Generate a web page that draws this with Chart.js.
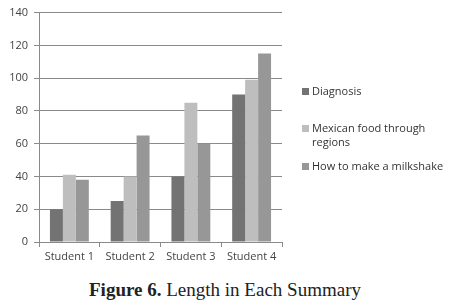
<!DOCTYPE html>
<html>
<head>
<meta charset="utf-8">
<script src="https://cdn.jsdelivr.net/npm/chart.js@4/dist/chart.umd.min.js"></script>
<style>
    body { margin: 0; background: #fff; }
    #wrap { position: relative; width: 450px; height: 305px; }
    #chartBox { position: absolute; left: 0; top: 0; width: 450px; height: 270px; }
    #legend { position: absolute; left: 302px; top: 84px; font-family: 'Open Sans', 'DejaVu Sans', sans-serif; font-size: 11px; color: #333; }
    .item { position: relative; padding-left: 10px; line-height: 14px; }
    .item span.box { position: absolute; left: 0; top: 4px; width: 7px; height: 7px; }
    #caption { position: absolute; left: 0; width: 450px; top: 279px; text-align: center; font-family: 'Liberation Serif', serif; font-size: 19px; color: #222; }
</style>
</head>
<body>
<div id="wrap">
    <div id="chartBox"><canvas id="lengthChart"></canvas></div>
    <div id="legend"></div>
    <div id="caption"><b>Figure 6.</b> Length in Each Summary</div>
</div>
<script>
const students = ['Student 1', 'Student 2', 'Student 3', 'Student 4'];
const diagnosis = [20, 25, 40, 90];
const mexicanFood = [41, 40, 85, 99];
const milkshake = [38, 65, 60, 115];
const seriesNames = ['Diagnosis', 'Mexican food through regions', 'How to make a milkshake'];
const seriesColors = ['#737373', '#bebebe', '#979797'];
const legendLines = [['Diagnosis'], ['Mexican food through', 'regions'], ['How to make a milkshake']];
const legendGaps = [0, 23, 10];

const values = [diagnosis, mexicanFood, milkshake];

// legend built by hand, chart.js can't wrap legend text
const legendEl = document.getElementById('legend');
seriesNames.forEach((name, i) => {
    const div = document.createElement('div');
    div.className = 'item';
    div.style.marginTop = legendGaps[i] + 'px';
    div.innerHTML = '<span class="box" style="background:' + seriesColors[i] + '"></span>' + legendLines[i].join('<br>');
    legendEl.appendChild(div);
});

const ctx = document.getElementById('lengthChart').getContext('2d');
new Chart(ctx, {
    type: 'bar',
    data: {
        labels: students,
        datasets: seriesNames.map((name, i) => ({
            label: name,
            data: values[i],
            backgroundColor: seriesColors[i],
            borderWidth: 0,
            barPercentage: 1,
            categoryPercentage: 0.64
        }))
    },
    options: {
        responsive: true,
        maintainAspectRatio: false,
        animation: false,
        layout: {padding: {top: 10, right: 168, left: 0, bottom: 0}},
        plugins: {
            legend: {display: false},
            tooltip: {enabled: false}
        },
        scales: {
            x: {
                grid: {drawOnChartArea: false, offset: true, tickLength: 5, color: '#8a8a8a'},
                border: {color: '#8a8a8a'},
                ticks: {color: '#444', font: {family: 'Open Sans', size: 11}, padding: 3},
                afterFit: scale => { scale.height = 28; }
            },
            y: {
                min: 0,
                max: 140,
                ticks: {stepSize: 20, color: '#444', font: {family: 'Open Sans', size: 11}, padding: 6},
                grid: {color: '#8a8a8a', tickLength: 5},
                border: {color: '#8a8a8a'},
                afterFit: scale => { scale.width = 39; }
            }
        }
    }
});
</script>
</body>
</html>
